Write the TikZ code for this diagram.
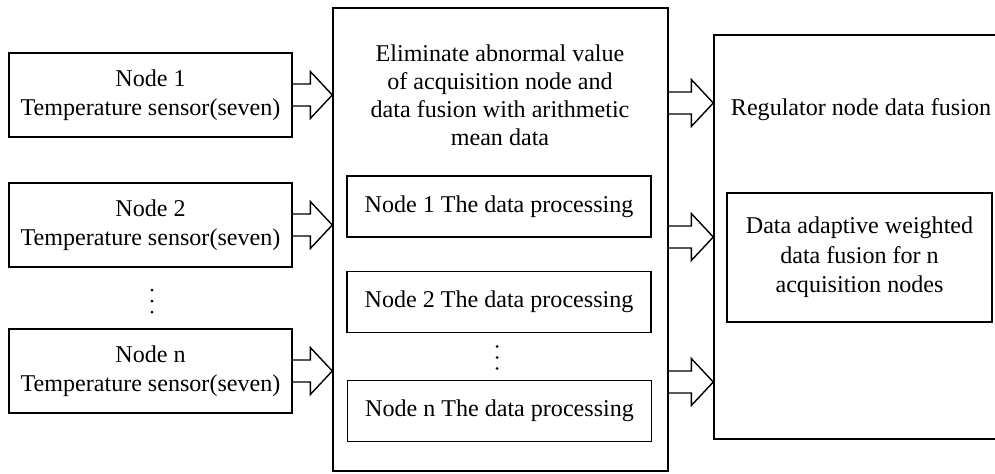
\documentclass[tikz,border=0pt]{standalone}
\usepackage{fontspec}
\setmainfont{Liberation Serif}
\usetikzlibrary{calc}

\tikzset{
  blk/.style={draw, line width=0.8pt, align=center, inner sep=0pt,
    font=\fontsize{13.7}{16.2}\selectfont},
  sensor/.style={blk, minimum width=5.66cm, minimum height=1.68cm},
  proc/.style={blk, minimum width=6.08cm, minimum height=1.22cm},
  txt/.style={blk, draw=none},
}

% hollow block arrow from a point to the box it points at
\newcommand{\fatarrow}[2]{%
  \coordinate (tip) at (#1 -| #2);
  \draw[line width=0.8pt, line join=miter]
    ($(#1)+(0,0.22)$) -- ($(tip)+(-0.44,0.22)$) -- ++(0,0.25) -- (tip)
    -- ++(-0.44,-0.47) -- ++(0,0.25) -- ($(#1)+(0,-0.22)$);}

% three stacked dots round a point
\newcommand{\vdotsat}[1]{%
  \foreach \dy in {-0.22,0,0.22}
    \fill ($(#1)+(0,\dy)$) circle(0.03);}

\begin{document}
\begin{tikzpicture}
\useasboundingbox (0,0) rectangle (19.9,9.46);
\clip (0,0) rectangle (19.9,9.46);

%------------------------------------- sensors
\node[sensor] (s1) at (3.01,7.56) {Node 1\\ Temperature sensor(seven)};
\node[sensor] (s2) at (3.01,4.96) {Node 2\\ Temperature sensor(seven)};
\coordinate (ldots) at (3.04,3.44);
\node[sensor] (sn) at (3.01,2.04) {Node n\\ Temperature sensor(seven)};

%------------------------------------- acquisition side
\node[blk, minimum width=6.70cm, minimum height=9.26cm] (mid) at (10.01,4.67) {};
\node[txt, font=\fontsize{13.7}{16}\selectfont] (midtxt) at (10.0,7.55)
  {Eliminate abnormal value\\ of acquisition node and\\ data fusion with arithmetic\\ mean data};
\node[proc] (p1) at (9.98,5.33) {Node 1 The data processing};
\node[proc] (p2) at (9.98,3.42) {Node 2 The data processing};
\coordinate (mdots) at (9.94,2.31);
\node[proc] (pn) at (9.99,1.24) {Node n The data processing};

\vdotsat{ldots}
\vdotsat{mdots}

%------------------------------------- regulator
\node[blk, minimum width=5.72cm, minimum height=8.08cm] (reg) at (17.14,4.72) {};
\node[txt] (regtxt) at (17.22,7.26) {Regulator node data fusion};
\node[blk, minimum width=5.30cm, minimum height=2.58cm, font=\fontsize{13.7}{16.8}\selectfont]
  (adapt) at (17.19,4.31) {Data adaptive weighted\\ data fusion for n\\ acquisition nodes};

%------------------------------------- arrows
\fatarrow{s1.east}{mid.west}
\fatarrow{s2.east}{mid.west}
\fatarrow{sn.east}{mid.west}

\coordinate (o1) at (13.36,7.40);
\coordinate (o2) at (13.36,4.72);
\coordinate (o3) at (13.36,1.82);
\fatarrow{o1}{reg.west}
\fatarrow{o2}{reg.west}
\fatarrow{o3}{reg.west}
\end{tikzpicture}
\end{document}
